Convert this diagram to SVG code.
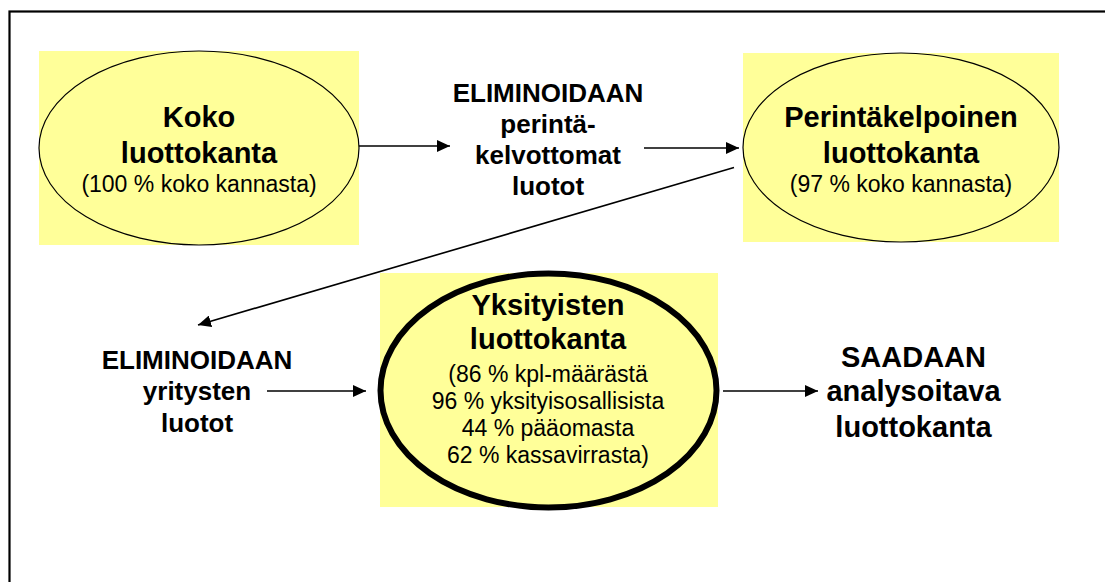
<svg xmlns="http://www.w3.org/2000/svg" width="1105" height="582" viewBox="0 0 1105 582">
  <style>
    .bg { fill: #FFFF99; }
    .ell { fill: #FFFF99; stroke: #000; stroke-width: 1.2; }
    .ell-bold { fill: #FFFF99; stroke: #000; stroke-width: 6; }
    text { font-family: "Liberation Sans", Arial, sans-serif; fill: #000; text-anchor: middle; }
    .title { font-size: 29px; font-weight: bold; }
    .small { font-size: 23px; }
    .label { font-size: 26px; font-weight: bold; }
    .label-lg { font-size: 29px; font-weight: bold; }
    .conn { stroke: #000; stroke-width: 1.6; fill: none; marker-end: url(#head); }
  </style>
  <defs>
    <marker id="head" viewBox="0 0 13 12" refX="13" refY="6" markerWidth="13" markerHeight="12" markerUnits="userSpaceOnUse" orient="auto">
      <path d="M0,0 L13,6 L0,12 Z" fill="#000"/>
    </marker>
  </defs>

  <rect width="1105" height="582" fill="#fff"/>
  <!-- outer frame (open at right and bottom) -->
  <rect x="9.5" y="11.5" width="1110" height="600" fill="none" stroke="#000" stroke-width="2.2"/>

  <g id="node-koko">
    <rect class="bg" x="39" y="51" width="320" height="194"/>
    <ellipse class="ell" cx="199" cy="148" rx="160" ry="97"/>
    <text class="title" x="199" y="127">Koko</text>
    <text class="title" x="199" y="163">luottokanta</text>
    <text class="small" x="199" y="192">(100 % koko kannasta)</text>
  </g>

  <g id="label-perintakelvottomat">
    <text class="label" x="548" y="102">ELIMINOIDAAN</text>
    <text class="label" x="548" y="133">perintä-</text>
    <text class="label" x="548" y="164">kelvottomat</text>
    <text class="label" x="548" y="195">luotot</text>
  </g>

  <g id="node-perintakelpoinen">
    <rect class="bg" x="743" y="53" width="316" height="189"/>
    <ellipse class="ell" cx="901" cy="147.5" rx="158" ry="94.5"/>
    <text class="title" x="901" y="127">Perintäkelpoinen</text>
    <text class="title" x="901" y="163">luottokanta</text>
    <text class="small" x="901" y="192">(97 % koko kannasta)</text>
  </g>

  <g id="label-yritysten">
    <text class="label" x="197" y="369">ELIMINOIDAAN</text>
    <text class="label" x="197" y="400">yritysten</text>
    <text class="label" x="197" y="432">luotot</text>
  </g>

  <g id="node-yksityisten">
    <rect class="bg" x="380" y="273" width="338" height="234"/>
    <ellipse class="ell-bold" cx="548.5" cy="390.5" rx="168" ry="117"/>
    <text class="title" x="548" y="315">Yksityisten</text>
    <text class="title" x="548" y="349">luottokanta</text>
    <text class="small" x="548" y="381.5">(86 % kpl-määrästä</text>
    <text class="small" x="548" y="408.5">96 % yksityisosallisista</text>
    <text class="small" x="548" y="435.5">44 % pääomasta</text>
    <text class="small" x="548" y="462.5">62 % kassavirrasta)</text>
  </g>

  <g id="label-saadaan">
    <text class="label-lg" x="913.5" y="367">SAADAAN</text>
    <text class="label-lg" x="913.5" y="401">analysoitava</text>
    <text class="label-lg" x="913.5" y="437">luottokanta</text>
  </g>

  <g id="connectors">
    <line class="conn" x1="359" y1="146" x2="450" y2="146"/>
    <line class="conn" x1="644" y1="148" x2="739" y2="148"/>
    <line class="conn" x1="734" y1="167.5" x2="198" y2="325"/>
    <line class="conn" x1="267" y1="391" x2="366" y2="391"/>
    <line class="conn" x1="723" y1="391" x2="818" y2="391"/>
  </g>
</svg>
